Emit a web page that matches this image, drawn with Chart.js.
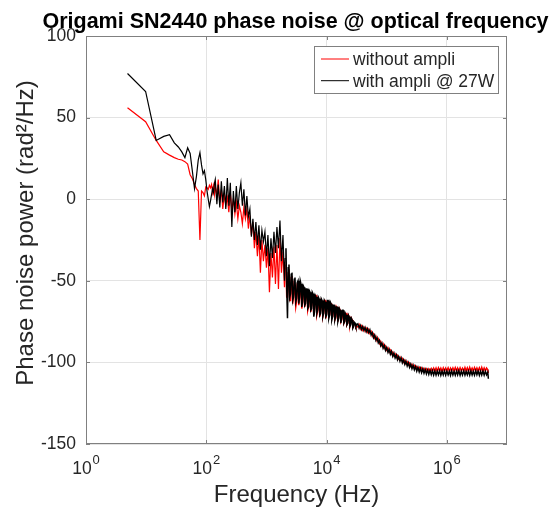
<!DOCTYPE html>
<html>
<head>
<meta charset="utf-8">
<script src="https://cdn.jsdelivr.net/npm/chart.js@4.4.1/dist/chart.umd.min.js"></script>
<style>
  html, body { margin: 0; padding: 0; background: #fff; }
</style>
</head>
<body>
<canvas id="noiseChart" width="554" height="510"></canvas>
<script>
// FFT bins up to ~140 Hz, then a log-spaced pick of the spectrum
const freqHz = [
    4.9, 9.8, 14.7, 19.6, 24.5, 29.4, 34.3, 39.2, 44.1, 49, 53.9, 58.8, 63.7, 68.6,
    73.5, 78.4, 83.3, 88.2, 93.1, 98, 102.9, 107.8, 112.7, 117.6, 122.5, 127.4, 132.3, 137.2,
    141, 150, 158, 168, 178, 188, 200, 211, 224, 237, 251, 266, 282, 299, 316, 335, 355,
    376, 398, 422, 447, 473, 501, 531, 562, 596, 631, 668, 708, 750, 794, 841, 891, 944,
    1000, 1059, 1122, 1189, 1259, 1334, 1413, 1496, 1585, 1679, 1778, 1884,
    1995, 2054, 2113, 2175, 2239, 2304, 2371, 2441, 2512, 2585, 2661, 2738, 2818, 2901, 2985, 3073,
    3162, 3255, 3350, 3447, 3548, 3652, 3758, 3868, 3981, 4097, 4217, 4340, 4467, 4597, 4732, 4870,
    5012, 5158, 5309, 5464, 5623, 5788, 5957, 6131, 6310, 6494, 6683, 6879, 7079, 7286, 7499, 7718,
    7943, 8175, 8414, 8660, 8913, 9173, 9441, 9716, 10000, 10290, 10590, 10900, 11220, 11550, 11890, 12230,
    12590, 12960, 13340, 13730, 14130, 14540, 14960, 15400, 15850, 16310, 16790, 17280, 17780, 18300, 18840, 19390,
    19950, 20540, 21140, 21750, 22390, 23040, 23710, 24410, 25120, 25850, 26610, 27380, 28180, 29010, 29850, 30730,
    31620,
    3.31e4, 3.47e4, 3.63e4, 3.80e4, 3.98e4, 4.17e4, 4.37e4, 4.57e4, 4.79e4, 5.01e4, 5.25e4, 5.50e4,
    5.75e4, 6.03e4, 6.31e4, 6.61e4, 6.92e4, 7.24e4, 7.59e4, 7.94e4, 8.32e4, 8.71e4, 9.12e4, 9.55e4,
    1.00e5, 1.05e5, 1.10e5, 1.15e5, 1.20e5, 1.26e5, 1.32e5, 1.38e5, 1.45e5, 1.51e5,
    1.58e5, 1.66e5, 1.74e5, 1.82e5, 1.91e5, 2.00e5, 2.09e5, 2.19e5, 2.29e5, 2.40e5,
    2.51e5, 2.63e5, 2.75e5, 2.88e5, 3.02e5, 3.16e5, 3.31e5, 3.47e5, 3.63e5, 3.80e5,
    3.98e5, 4.17e5, 4.37e5, 4.57e5, 4.79e5, 5.01e5, 5.25e5, 5.50e5, 5.75e5, 6.03e5,
    6.31e5, 6.61e5, 6.92e5, 7.24e5, 7.59e5, 7.94e5, 8.32e5, 8.71e5, 9.12e5, 9.55e5,
    1.00e6, 1.05e6, 1.10e6, 1.15e6, 1.20e6, 1.26e6, 1.32e6, 1.38e6, 1.45e6, 1.51e6,
    1.58e6, 1.66e6, 1.74e6, 1.82e6, 1.91e6, 2.00e6, 2.09e6, 2.19e6, 2.29e6, 2.40e6,
    2.51e6, 2.63e6, 2.75e6, 2.88e6, 3.02e6, 3.16e6, 3.31e6, 3.47e6, 3.63e6, 3.80e6,
    3.98e6, 4.17e6, 4.37e6, 4.57e6, 4.79e6, 4.90e6
];

const withoutAmpli = [
    56, 47.5, 36, 29, 27, 25.5, 24.5, 24, 23, 21.5, 15, 12.5, 9, 6.5,
    5, -25, 5, 4, 2, 7.5, 7, 6, 8.5, 7, 9, 4, 8, 3,
    8, 2, 12, -2, 6, -6, 3, -4, 1, -8, 4, -7, 0, -9, -2, -12, -4,
    -8, -15, -5, -12, -6, -18, -10, -22, -14, -30, -20, -35, -22, -45, -25, -38, -28,
    -42, -30, -57, -33, -48, -29, -52, -28, -55, -24, -45, -32,
    -54, -42, -40, -60, -60, -45, -43, -62, -62, -48, -47, -64, -58, -50, -50, -66,
    -63, -52, -52, -65, -61, -53, -54, -67, -64, -54, -55, -66, -62, -57, -57, -68,
    -66, -58, -58, -69, -65, -59, -60, -71, -67, -59, -59, -71, -69, -62, -62, -72,
    -68, -62, -63, -72, -70, -62, -62, -73, -70, -63, -63, -72, -71, -64, -64, -73,
    -72, -66, -66, -74, -73, -66, -67, -75, -72, -67, -68, -75, -74, -69, -69, -76,
    -75, -70, -70, -77, -76, -71, -72, -78, -76, -73, -74, -78, -77, -76, -77, -78.5,
    -78,
    -78.2, -76.9, -79.4, -77.8, -80.1, -78.5, -80.8, -79.2, -81.4, -79.9, -82.2, -81.1,
    -83.9, -82.6, -85.2, -84.0, -86.8, -85.6, -88.4, -87.2, -89.8, -88.6, -91.2, -90.0,
    -92.4, -91.2, -93.6, -92.5, -94.8, -93.7, -95.9, -94.8, -96.9, -95.8,
    -97.9, -96.8, -98.8, -97.7, -99.8, -98.7, -100.7, -99.6, -101.5, -100.4,
    -102.3, -101.2, -103.0, -101.9, -103.6, -102.5, -104.2, -103.0, -104.6, -103.4,
    -105.0, -103.7, -105.2, -103.9, -105.4, -104.0, -105.5, -103.8, -105.4, -103.6,
    -105.3, -103.5, -105.4, -103.3, -105.2, -103.6, -105.5, -103.4, -105.3, -103.5,
    -105.2, -103.3, -105.4, -103.6, -105.1, -103.4, -105.3, -103.2, -105.2, -103.5,
    -105.4, -103.3, -105.1, -103.6, -105.3, -103.2, -105.2, -103.4, -105.4, -103.1,
    -105.2, -103.5, -105.3, -103.2, -105.1, -103.4, -105.3, -103.3, -105.2, -103.1,
    -105.4, -103.4, -105.2, -103.5, -104.6, -106.5
];

const withAmpli = [
    77, 66, 36, 38.5, 39.5, 34.5, 32, 29, 25.5, 31.5, 28, 17, 6.5, 14,
    24, 28.5, 21, 15.5, 17.5, 12, 5, 0, -4.5, -1, 3, 6.5, 4, 10,
    12, -3, 9, -5, 11, -2, 8, -6, 13, -4, 10, -17, 5, -8, 8, -6, 4,
    10, -4, 6, -10, 2, -11, -6, -23, -12, -25, -14, -28, -16, -31, -19, -26, -20,
    -35, -22, -41, -24, -36, -20, -33, -17, -30, -13, -38, -22,
    -50, -36, -30, -55, -73, -42, -40, -60, -58, -46, -45, -62, -60, -49, -48, -63,
    -61, -51, -50, -64, -60, -50, -52, -66, -63, -53, -54, -65, -64, -55, -55, -67,
    -66, -56, -57, -68, -67, -57, -58, -72, -69, -59, -60, -70, -68, -60, -61, -71,
    -70, -61, -62, -72, -70, -62, -63, -72, -71, -62, -62, -73, -71, -63, -64, -74,
    -72, -65, -65, -74, -72, -66, -66, -75, -73, -67, -68, -76, -73, -68, -68, -76,
    -75, -70, -71, -77, -76, -71, -72, -78, -77, -73, -74, -79, -78, -75.5, -76, -78,
    -77,
    -76.4, -78.9, -77.3, -79.8, -78.0, -80.4, -78.6, -81.2, -79.4, -81.8, -80.1, -83.1,
    -81.7, -84.8, -83.2, -86.4, -84.9, -88.0, -86.5, -89.7, -88.1, -91.3, -89.6, -92.6,
    -90.9, -93.9, -92.1, -95.0, -93.2, -96.3, -94.4, -97.2, -95.4, -98.3,
    -96.4, -99.2, -97.3, -100.3, -98.4, -101.2, -99.3, -102.2, -100.2, -103.0,
    -101.1, -103.9, -101.8, -104.5, -102.5, -105.3, -103.1, -105.8, -103.6, -106.3,
    -104.0, -106.6, -104.4, -107.0, -104.7, -107.3, -104.9, -107.5, -105.1, -107.7,
    -105.2, -107.8, -105.3, -107.6, -105.1, -107.9, -105.4, -107.7, -105.2, -107.8,
    -105.3, -107.6, -105.4, -107.9, -105.2, -107.7, -105.5, -107.8, -105.3, -107.6,
    -105.1, -107.9, -105.4, -107.7, -105.2, -107.8, -105.5, -107.6, -105.3, -107.9,
    -105.2, -107.7, -105.4, -107.8, -105.1, -107.6, -105.3, -107.9, -105.4, -107.7,
    -105.2, -107.8, -105.5, -107.6, -106.0, -110
];

const seriesNames = ['without ampli', 'with ampli @ 27W'];
const seriesColors = ['#ff0000', '#000000'];
const xTickPowers = [0, 2, 4, 6];
const yTickValues = [-150, -100, -50, 0, 50, 100];

const FONT = '"Liberation Sans", Arial, Helvetica, sans-serif';
const LABEL_GREY = '#262626';
const FRAME_GREY = '#808080';

const toPoints = vals => freqHz.map((f, i) => ({ x: f, y: vals[i] }));
// the dense part of the spectrum reads as a thicker band
const denseWidth = ctx => (ctx.p0.parsed.x > 2000 ? 1.5 : 1.2);

const matlabAxes = {
    id: 'matlabAxes',
    afterDatasetsDraw(chart) {
        const { ctx, chartArea: a, scales: { x, y } } = chart;
        ctx.save();

        // box + inward ticks
        ctx.strokeStyle = FRAME_GREY;
        ctx.lineWidth = 1;
        ctx.strokeRect(a.left + 0.5, a.top + 0.5, a.right - a.left - 1, a.bottom - a.top - 1);
        ctx.beginPath();
        xTickPowers.forEach(p => {
            const px = Math.round(x.getPixelForValue(10 ** p)) + 0.5;
            ctx.moveTo(px, a.bottom); ctx.lineTo(px, a.bottom - 4);
            ctx.moveTo(px, a.top); ctx.lineTo(px, a.top + 4);
        });
        yTickValues.forEach(v => {
            const py = Math.round(y.getPixelForValue(v)) + 0.5;
            ctx.moveTo(a.left, py); ctx.lineTo(a.left + 4, py);
            ctx.moveTo(a.right, py); ctx.lineTo(a.right - 4, py);
        });
        ctx.stroke();

        // 10^n labels
        ctx.fillStyle = LABEL_GREY;
        ctx.textAlign = 'left';
        ctx.textBaseline = 'alphabetic';
        xTickPowers.forEach(p => {
            const px = x.getPixelForValue(10 ** p);
            ctx.font = `17.5px ${FONT}`;
            const wBase = ctx.measureText('10').width;
            ctx.font = `13px ${FONT}`;
            const wExp = ctx.measureText(String(p)).width;
            const start = px - (wBase + 1 + wExp) / 2;
            ctx.font = `17.5px ${FONT}`;
            ctx.fillText('10', start, 474);
            ctx.font = `13px ${FONT}`;
            ctx.fillText(String(p), start + wBase + 1, 464);
        });

        // title
        ctx.fillStyle = '#000';
        ctx.font = `bold 21.5px ${FONT}`;
        ctx.textAlign = 'center';
        ctx.fillText('Origami SN2440 phase noise @ optical frequency', (a.left + a.right) / 2 - 1, 28);

        // y label, centred a little above the axes middle like the original
        ctx.save();
        ctx.translate(26, (a.top + a.bottom) / 2 - 7);
        ctx.rotate(-Math.PI / 2);
        ctx.fillStyle = LABEL_GREY;
        ctx.font = `24px ${FONT}`;
        ctx.textBaseline = 'middle';
        ctx.fillText('Phase noise power (rad²/Hz)', 0, 0);
        ctx.restore();

        // legend
        const bw = 184, bh = 47;
        const bx = a.right - 9 - bw, by = a.top + 10;
        ctx.fillStyle = '#fff';
        ctx.fillRect(bx, by, bw, bh);
        ctx.strokeStyle = FRAME_GREY;
        ctx.strokeRect(bx + 0.5, by + 0.5, bw, bh);
        ctx.font = `17.5px ${FONT}`;
        ctx.textAlign = 'left';
        ctx.textBaseline = 'middle';
        seriesNames.forEach((name, i) => {
            const ly = by + 13 + i * 21.7;
            ctx.strokeStyle = seriesColors[i];
            ctx.lineWidth = 1;
            ctx.beginPath();
            ctx.moveTo(bx + 7, ly);
            ctx.lineTo(bx + 35, ly);
            ctx.stroke();
            ctx.fillStyle = LABEL_GREY;
            ctx.fillText(name, bx + 39, ly + 1);
        });
        ctx.restore();
    }
};

new Chart(document.getElementById('noiseChart'), {
    type: 'line',
    data: {
        datasets: [
            { label: seriesNames[0], data: toPoints(withoutAmpli), borderColor: seriesColors[0], order: 1, segment: { borderWidth: denseWidth } },
            { label: seriesNames[1], data: toPoints(withAmpli), borderColor: seriesColors[1], order: 0, segment: { borderWidth: denseWidth } }
        ]
    },
    options: {
        responsive: false,
        animation: false,
        layout: { padding: { top: 36, right: 47, left: 0, bottom: 0 } },
        elements: {
            point: { radius: 0 },
            line: { borderWidth: 1.2, tension: 0, fill: false }
        },
        plugins: {
            legend: { display: false },
            title: { display: false },
            tooltip: { enabled: false }
        },
        scales: {
            x: {
                type: 'logarithmic',
                min: 1,
                max: 1e7,
                afterBuildTicks: s => { s.ticks = xTickPowers.map(p => ({ value: 10 ** p })); },
                afterFit: s => { s.height = 66; },
                ticks: { display: false },
                grid: { color: '#e3e3e3', drawTicks: false, tickLength: 0 },
                border: { display: false },
                title: {
                    display: true,
                    text: 'Frequency (Hz)',
                    color: LABEL_GREY,
                    font: { family: FONT, size: 24 },
                    padding: { top: 0, bottom: 0 }
                }
            },
            y: {
                min: -150,
                max: 100,
                afterBuildTicks: s => { s.ticks = yTickValues.map(v => ({ value: v })); },
                afterFit: s => { s.width = 86; },
                ticks: { color: LABEL_GREY, font: { family: FONT, size: 17.5 }, padding: 10 },
                grid: { color: '#e3e3e3', drawTicks: false, tickLength: 0 },
                border: { display: false },
                title: { display: false }
            }
        }
    },
    plugins: [matlabAxes]
});
</script>
</body>
</html>
